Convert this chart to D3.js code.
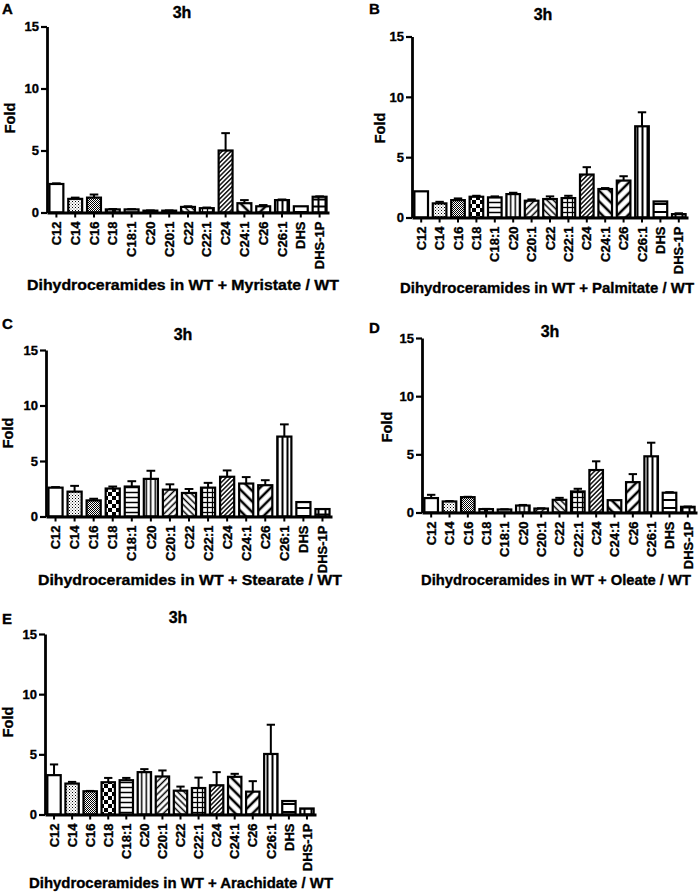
<!DOCTYPE html>
<html><head><meta charset="utf-8">
<script src="https://cdn.jsdelivr.net/npm/d3@7"></script>
<style>
body{margin:0;background:#fff}
svg{display:block}
text{font-family:"Liberation Sans",Arial,sans-serif;font-weight:bold;fill:#000;stroke:#000;stroke-width:0.35px}
</style>
</head><body>
<svg id="c" width="700" height="893"></svg>
<script>
// ---------- DATA ----------
const categories = ["C12","C14","C16","C18","C18:1","C20","C20:1","C22","C22:1","C24","C24:1","C26","C26:1","DHS","DHS-1P"];
const panelLetters = ["A","B","C","D","E"];
const timeLabel = "3h";
const yLabel = "Fold";
const xTitles = [
  "Dihydroceramides in WT + Myristate / WT",
  "Dihydroceramides in WT + Palmitate / WT",
  "Dihydroceramides in WT + Stearate / WT",
  "Dihydroceramides in WT + Oleate / WT",
  "Dihydroceramides in WT + Arachidate / WT"
];
const yTicks = [0, 5, 10, 15];

const meanA = [2.3,1.1,1.2,0.25,0.25,0.15,0.15,0.45,0.35,5.0,0.75,0.5,1.0,0.5,1.27];
const semA  = [0.05,0.1,0.25,0.03,0.02,0.02,0.02,0.05,0.05,1.4,0.25,0.1,0.05,0,0.03];
const meanB = [2.17,1.17,1.44,1.72,1.67,1.94,1.39,1.53,1.61,3.56,2.36,3.06,7.56,1.33,0.28];
const semB  = [0,0.13,0.14,0.08,0.08,0.11,0.11,0.22,0.19,0.61,0.08,0.36,1.16,0,0.07];
const meanC = [2.6,2.24,1.45,2.52,2.7,3.39,2.42,2.12,2.6,3.58,2.97,2.82,7.2,1.3,0.67];
const semC  = [0.05,0.52,0.15,0.18,0.48,0.73,0.48,0.36,0.43,0.57,0.58,0.45,1.1,0,0];
const meanD = [1.24,0.95,1.32,0.29,0.26,0.6,0.34,1.09,1.81,3.65,1.06,2.61,4.83,1.7,0.49];
const semD  = [0.28,0.03,0.03,0.02,0.02,0.05,0.02,0.17,0.23,0.75,0,0.69,1.17,0.05,0.02];
const meanE = [3.27,2.57,1.93,2.68,2.85,3.52,3.16,1.98,2.2,2.43,3.13,1.9,5.03,1.12,0.5];
const semE  = [0.89,0.14,0.03,0.36,0.19,0.25,0.5,0.34,0.87,1.09,0.25,0.87,2.43,0,0];

const means = [meanA, meanB, meanC, meanD, meanE];
const sems  = [semA, semB, semC, semD, semE];

// ---------- LAYOUT / STYLE ----------
const patternOf = ["white","dotsLight","dotsDense","check","hlines","vlines","diagF","diagB","grid","diagDense","diagBWide","diagFWide","vlinesWide","hlinesWide","gridWide"];

const layout = [
  {x0:47,  x1:329, y0:212.5, y15:26.5, letter:[2,14],   title:[182,18],  fold:[15,118],  xt:[183,290], xtw:312},
  {x0:412, x1:688, y0:217.5, y15:36.5, letter:[369,14], title:[543,20],  fold:[385,128], xt:[547,293], xtw:294},
  {x0:46,  x1:332, y0:516.5, y15:350,  letter:[2,329],  title:[183,340], fold:[13,433],  xt:[190,585], xtw:304},
  {x0:422, x1:697, y0:512.5, y15:338,  letter:[369,333],title:[550,337], fold:[392,427], xt:[556,585], xtw:270},
  {x0:45,  x1:316, y0:814.5, y15:634,  letter:[2,624],  title:[178,623], fold:[13,722],  xt:[181,888], xtw:304}
];

const svg = d3.select("#c");
const defs = svg.append("defs");

function pat(id, size, rot, draw){
  const p = defs.append("pattern").attr("id", id).attr("patternUnits","userSpaceOnUse")
    .attr("width", size).attr("height", size);
  if (rot) p.attr("patternTransform", `rotate(${rot})`);
  p.append("rect").attr("width", size).attr("height", size).attr("fill","#fff");
  draw(p, size);
}
const vline = (sw) => (p,s) => p.append("line").attr("x1",s/2).attr("x2",s/2).attr("y1",0).attr("y2",s).attr("stroke","#000").attr("stroke-width",sw);
const hline = (sw) => (p,s) => p.append("line").attr("y1",s/2).attr("y2",s/2).attr("x1",0).attr("x2",s).attr("stroke","#000").attr("stroke-width",sw);
const gridl = (sw) => (p,s) => { vline(sw)(p,s); hline(sw)(p,s); };

pat("white", 4, 0, ()=>{});
pat("dotsLight", 3, 0, (p)=>{ p.append("rect").attr("width",1).attr("height",1).attr("fill","#000"); p.append("rect").attr("x",1.5).attr("y",1.5).attr("width",1).attr("height",1).attr("fill","#555"); });
pat("dotsDense", 2, 0, (p)=>{ p.append("rect").attr("width",1).attr("height",1).attr("fill","#000"); p.append("rect").attr("x",1).attr("y",1).attr("width",1).attr("height",1).attr("fill","#000"); });
pat("check", 8, 0, (p)=>{ p.append("rect").attr("width",4).attr("height",4).attr("fill","#000"); p.append("rect").attr("x",4).attr("y",4).attr("width",4).attr("height",4).attr("fill","#000"); });
pat("hlines", 5, 0, hline(1.5));
pat("vlines", 4.5, 0, vline(1.5));
pat("diagF", 4.5, 45, vline(1.5));
pat("diagB", 4.5, -45, vline(1.5));
pat("grid", 5, 0, gridl(1.3));
pat("diagDense", 3.2, 45, vline(1.4));
pat("diagBWide", 7.5, -45, vline(2.5));
pat("diagFWide", 7.5, 45, vline(2.5));
pat("vlinesWide", 5, 0, vline(2));
pat("hlinesWide", 8, 0, hline(2));
pat("gridWide", 7, 0, gridl(2));

const FONT = '"Liberation Sans",Arial,sans-serif';

layout.forEach((L, pi) => {
  const g = svg.append("g");
  const x = d3.scaleBand().domain(categories).range([L.x0, L.x1]).paddingInner(0.26).paddingOuter(0.13);
  const y = d3.scaleLinear().domain([0, 15]).range([L.y0, L.y15]);
  const mean = means[pi], sem = sems[pi];

  // bars
  g.selectAll("rect.bar").data(categories).join("rect").attr("class","bar")
    .attr("x", d => x(d))
    .attr("width", x.bandwidth())
    .attr("y", (d,i) => y(mean[i]))
    .attr("height", (d,i) => y(0) - y(mean[i]))
    .attr("fill", (d,i) => `url(#${patternOf[i]})`)
    .attr("stroke", "#000").attr("stroke-width", 2.2);

  // error bars (upper only)
  const cap = x.bandwidth() * 0.62;
  categories.forEach((c, i) => {
    if (sem[i] <= 0) return;
    const cx = x(c) + x.bandwidth()/2;
    g.append("line").attr("x1",cx).attr("x2",cx).attr("y1",y(mean[i])).attr("y2",y(mean[i]+sem[i]))
      .attr("stroke","#000").attr("stroke-width",2);
    g.append("line").attr("x1",cx-cap/2).attr("x2",cx+cap/2).attr("y1",y(mean[i]+sem[i])).attr("y2",y(mean[i]+sem[i]))
      .attr("stroke","#000").attr("stroke-width",2);
  });

  // y axis
  const ya = g.append("g").attr("transform",`translate(${L.x0},0)`)
    .call(d3.axisLeft(y).tickValues(yTicks).tickSize(6).tickSizeOuter(0).tickPadding(2).tickFormat(d3.format("d")));
  ya.select(".domain").attr("stroke-width",2.8);
  ya.selectAll(".tick line").attr("stroke-width",2.2);
  ya.selectAll(".tick text").style("font-size","13px").style("font-family",FONT).style("font-weight","bold");

  // x axis
  const xa = g.append("g").attr("transform",`translate(0,${L.y0})`)
    .call(d3.axisBottom(x).tickSize(5).tickSizeOuter(0));
  xa.select(".domain").attr("stroke-width",2.8);
  xa.selectAll(".tick line").attr("stroke-width",2);
  xa.selectAll(".tick text")
    .attr("transform","rotate(-90)")
    .attr("x",-9).attr("y",0).attr("dy","0.36em")
    .style("text-anchor","end")
    .style("font-size","13px").style("font-family",FONT).style("font-weight","bold");

  // texts
  g.append("text").attr("x",L.letter[0]).attr("y",L.letter[1]).style("font-size","15px").text(panelLetters[pi]);
  g.append("text").attr("x",L.title[0]).attr("y",L.title[1]).attr("text-anchor","middle").style("font-size","16px").text(timeLabel);
  g.append("text").attr("transform",`translate(${L.fold[0]},${L.fold[1]}) rotate(-90)`).attr("text-anchor","middle").style("font-size","14.5px").text(yLabel);
  g.append("text").attr("x",L.xt[0]).attr("y",L.xt[1]).attr("text-anchor","middle")
    .attr("textLength", L.xtw).attr("lengthAdjust","spacingAndGlyphs")
    .style("font-size","15px").text(xTitles[pi]);
});
</script>
</body></html>
